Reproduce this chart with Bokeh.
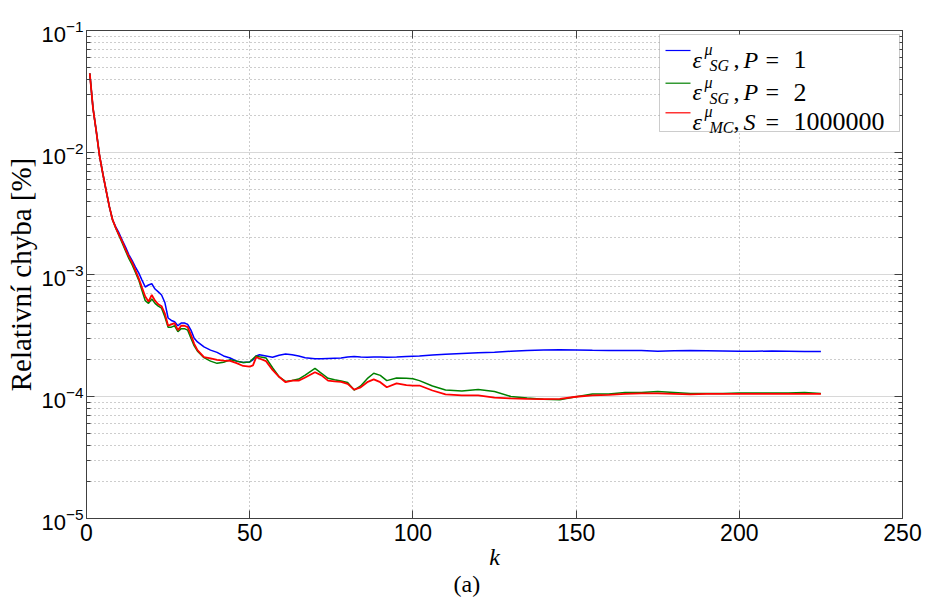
import math
from bokeh.plotting import figure
from bokeh.models import Label, BoxAnnotation, LinearAxis, LogAxis, FixedTicker, Title
from bokeh.embed import file_html
from bokeh.resources import INLINE

# ---------------- data ----------------
k = [1, 2, 3, 4, 5, 6, 7, 8, 9, 10, 11, 12, 13, 14, 15, 16, 17, 18, 19, 20,
     21, 22, 23, 24, 25, 26, 27, 28, 29, 30, 31, 32, 33, 34, 36, 38, 40, 42, 44, 46,
     48, 50, 51, 52, 53, 55, 57, 59, 61, 63, 65, 67, 70, 72, 74, 76, 78, 80, 82, 84,
     86, 88, 90, 92, 95, 98, 100, 102, 106, 110, 115, 120, 125, 130, 135, 140, 145, 150, 155, 160,
     165, 170, 175, 180, 185, 190, 195, 200, 205, 210, 215, 220, 225]

err_sg_p1 = [0.0445, 0.0230, 0.0149, 0.0094, 0.0067, 0.0049, 0.0036, 0.0028, 0.00245, 0.00218,
             0.0019, 0.00167, 0.00145, 0.0013, 0.00115, 0.00103, 0.00090, 0.00079, 0.00082, 0.00084,
             0.00076, 0.00072, 0.00068, 0.00059, 0.00044, 0.00042, 0.00041, 0.00038, 0.00040, 0.00040,
             0.00039, 0.00035, 0.00030, 0.00028, 0.000255, 0.000240, 0.000230, 0.000215, 0.000207, 0.000195,
             0.000190, 0.000192, 0.000200, 0.000215, 0.000220, 0.000215, 0.000210, 0.000218, 0.000223, 0.000220,
             0.000215, 0.000208, 0.000204, 0.000204, 0.000205, 0.000206, 0.000207, 0.000211, 0.000213, 0.000211,
             0.000210, 0.000211, 0.000211, 0.000210, 0.000211, 0.000213, 0.000214, 0.000215, 0.000219, 0.000222,
             0.000225, 0.000228, 0.000231, 0.000235, 0.000238, 0.000240, 0.000242, 0.000241, 0.000239, 0.000238,
             0.000238, 0.000238, 0.000235, 0.000237, 0.000238, 0.000237, 0.000236, 0.000235, 0.000235, 0.000236,
             0.000235, 0.000234, 0.000234]

err_sg_p2 = [0.0445, 0.0230, 0.0149, 0.0094, 0.0067, 0.0049, 0.0036, 0.0028, 0.00238, 0.00207,
             0.0018, 0.00155, 0.00135, 0.0012, 0.00104, 0.0009, 0.00074, 0.00061, 0.00058, 0.00063,
             0.00058, 0.00055, 0.00053, 0.00045, 0.00037, 0.00037, 0.00038, 0.00034, 0.00036, 0.00036,
             0.00035, 0.00030, 0.00026, 0.000235, 0.000208, 0.000195, 0.000187, 0.000191, 0.000200, 0.000195,
             0.000190, 0.000192, 0.000204, 0.000215, 0.000212, 0.000207, 0.000172, 0.000145, 0.000133, 0.000135,
             0.000139, 0.000150, 0.000170, 0.000155, 0.000141, 0.000137, 0.000134, 0.000130, 0.000113, 0.000122,
             0.000140, 0.000155, 0.000149, 0.000135, 0.000142, 0.000141, 0.000140, 0.000135, 0.000122, 0.000113,
             0.000111, 0.000114, 0.000110, 0.000100, 0.0000970, 0.0000950, 0.0000940, 0.0000995, 0.000105, 0.000105,
             0.000108, 0.000108, 0.000110, 0.000108, 0.000106, 0.000106, 0.000106, 0.000107, 0.000107, 0.000107,
             0.000107, 0.000108, 0.000106]

err_mc = [0.0445, 0.0230, 0.0149, 0.0094, 0.0067, 0.0049, 0.0036, 0.0028, 0.0024, 0.0021,
          0.00185, 0.0016, 0.0014, 0.00125, 0.00108, 0.00093, 0.00078, 0.00066, 0.00060, 0.00068,
          0.00061, 0.00057, 0.00055, 0.00048, 0.00038, 0.00039, 0.00040, 0.00035, 0.00038, 0.00038,
          0.00037, 0.00032, 0.00027, 0.00024, 0.00021, 0.000205, 0.000200, 0.000197, 0.000196, 0.000188,
          0.000178, 0.000176, 0.000180, 0.000210, 0.000205, 0.000195, 0.000165, 0.000145, 0.000131, 0.000135,
          0.000135, 0.000143, 0.000158, 0.000149, 0.000135, 0.000133, 0.000132, 0.000127, 0.000114, 0.000119,
          0.000131, 0.000138, 0.000131, 0.000119, 0.000128, 0.000124, 0.000123, 0.000123, 0.000112, 0.000104,
          0.000102, 0.000102, 0.0000980, 0.0000965, 0.0000957, 0.0000950, 0.0000957, 0.0000995, 0.000102, 0.000103,
          0.000105, 0.000106, 0.000106, 0.000105, 0.000104, 0.000105, 0.000105, 0.000105, 0.000105, 0.000105,
          0.000105, 0.000105, 0.000105]

x_ticks = [0, 50, 100, 150, 200, 250]
y_exponents = [-5, -4, -3, -2, -1]
y_label = "Relativní chyba [%]"
x_label = "k"
caption = "(a)"
legend_rows = [
    {"color": "#0000ff", "sub": "SG", "var": "P", "val": "1"},
    {"color": "#008000", "sub": "SG", "var": "P", "val": "2"},
    {"color": "#ff0000", "sub": "MC", "var": "S", "val": "1000000"},
]

# ---------------- geometry (page pixels) ----------------
X0, X1 = 0, 250
Y0, Y1 = 1e-5, 1e-1
W, H = 928, 606
FL, FT, FW, FH = 86, 30, 816, 488     # frame left/top/width/height on page


def dx(px):
    return X0 + (px - FL) / FW * (X1 - X0)


def dy(py):
    l1, l0 = math.log10(Y1), math.log10(Y0)
    return 10 ** (l1 - (py - FT) / FH * (l1 - l0))


SANS = "Liberation Sans"
SERIF = "Liberation Serif"
AX = "#404040"
GRID = "#9a9a9a"

p = figure(width=W, height=H, x_range=(X0, X1), y_range=(Y0, Y1),
           y_axis_type="log", output_backend="svg", toolbar_location=None,
           min_border_left=FL, min_border_top=FT,
           min_border_right=W - FL - FW, min_border_bottom=H - FT - FH)
p.background_fill_color = "white"
p.border_fill_color = "white"
p.outline_line_color = AX

minor_y = [m * 10.0 ** e for e in y_exponents[:-1] for m in range(2, 10)]
yt = FixedTicker(ticks=[10.0 ** e for e in y_exponents], minor_ticks=minor_y)
xt = FixedTicker(ticks=x_ticks)

p.xaxis.ticker = xt
p.yaxis.ticker = yt

for ax in [p.xaxis[0], p.yaxis[0]]:
    ax.axis_line_color = AX
    ax.major_tick_line_color = AX
    ax.minor_tick_line_color = AX
    ax.major_tick_in = 8
    ax.major_tick_out = 0
    ax.minor_tick_in = 4
    ax.minor_tick_out = 0
    ax.major_label_text_color = "black"
    ax.axis_label_text_color = "black"
    ax.axis_label_text_font = SERIF

p.xaxis.major_label_text_font = SANS
p.xaxis.major_label_text_font_size = "23px"
p.xaxis.major_label_standoff = 5
p.xaxis.axis_label = x_label
p.xaxis.axis_label_text_font_style = "italic"
p.xaxis.axis_label_text_font_size = "24px"
p.xaxis.axis_label_standoff = 0

p.yaxis.major_label_text_font = SANS
p.yaxis.major_label_text_font_size = "22px"
p.yaxis.major_label_standoff = 3
p.yaxis.axis_label = y_label
p.yaxis.axis_label_text_font_style = "normal"
p.yaxis.axis_label_text_font_size = "29px"
p.yaxis.axis_label_standoff = 1

top = LinearAxis(ticker=xt, major_label_text_font_size="1px", major_label_text_color=None,
                 axis_line_color=AX, major_tick_line_color=AX, major_tick_in=8,
                 major_tick_out=0, minor_tick_in=0, minor_tick_out=0)
right = LogAxis(ticker=yt, major_label_text_font_size="1px", major_label_text_color=None,
                axis_line_color=AX, major_tick_line_color=AX, minor_tick_line_color=AX,
                major_tick_in=8, major_tick_out=0, minor_tick_in=4, minor_tick_out=0)
p.add_layout(top, "above")
p.add_layout(right, "right")

p.add_layout(Title(text=caption, align="left", offset=367, text_font=SERIF,
                   text_font_size="24px", text_font_style="normal", text_color="black",
                   standoff=-8), "below")

p.xgrid.grid_line_color = GRID
p.xgrid.grid_line_dash = "1 3"
p.ygrid.grid_line_color = "#b0b0b0"
p.ygrid.grid_line_dash = "1 1"
p.ygrid.minor_grid_line_color = GRID
p.ygrid.minor_grid_line_dash = "1 3"

# curves
p.line(k, err_sg_p1, line_color="#0000ff", line_width=1.5)
p.line(k, err_sg_p2, line_color="#008000", line_width=1.5)
p.line(k, err_mc, line_color="#ff0000", line_width=1.8)

# legend
p.add_layout(BoxAnnotation(left=dx(659), right=dx(899), top=dy(34), bottom=dy(131),
                           fill_color="white", fill_alpha=1.0, line_color="#555555",
                           line_width=1))
row_y = [50, 82.7, 112.3]
F, FS = "24px", "16px"
for ry, row in zip(row_y, legend_rows):
    p.line([dx(665), dx(690)], [dy(ry), dy(ry)], line_color=row["color"], line_width=1.2,
           level="overlay")
    base = ry + 9
    pieces = [
        ("\u03b5", 692, base, F, "italic"),
        ("\u03bc", 704, base - 10, FS, "italic"),
        (row["sub"], 709, base + 6, FS, "italic"),
        (",", 733, base, F, "normal"),
        (row["var"], 743, base, F, "italic"),
        ("=", 765, base, F, "normal"),
        (row["val"], 793, base, "26px", "normal"),
    ]
    for txt, px, py, fs, st in pieces:
        p.add_layout(Label(x=dx(px), y=dy(py), text=txt, text_align="left",
                           text_baseline="alphabetic", text_font=SERIF,
                           text_font_style=st, text_font_size=fs, text_color="black",
                           level="overlay"))

open("out.html", "w").write(file_html(p, INLINE))
